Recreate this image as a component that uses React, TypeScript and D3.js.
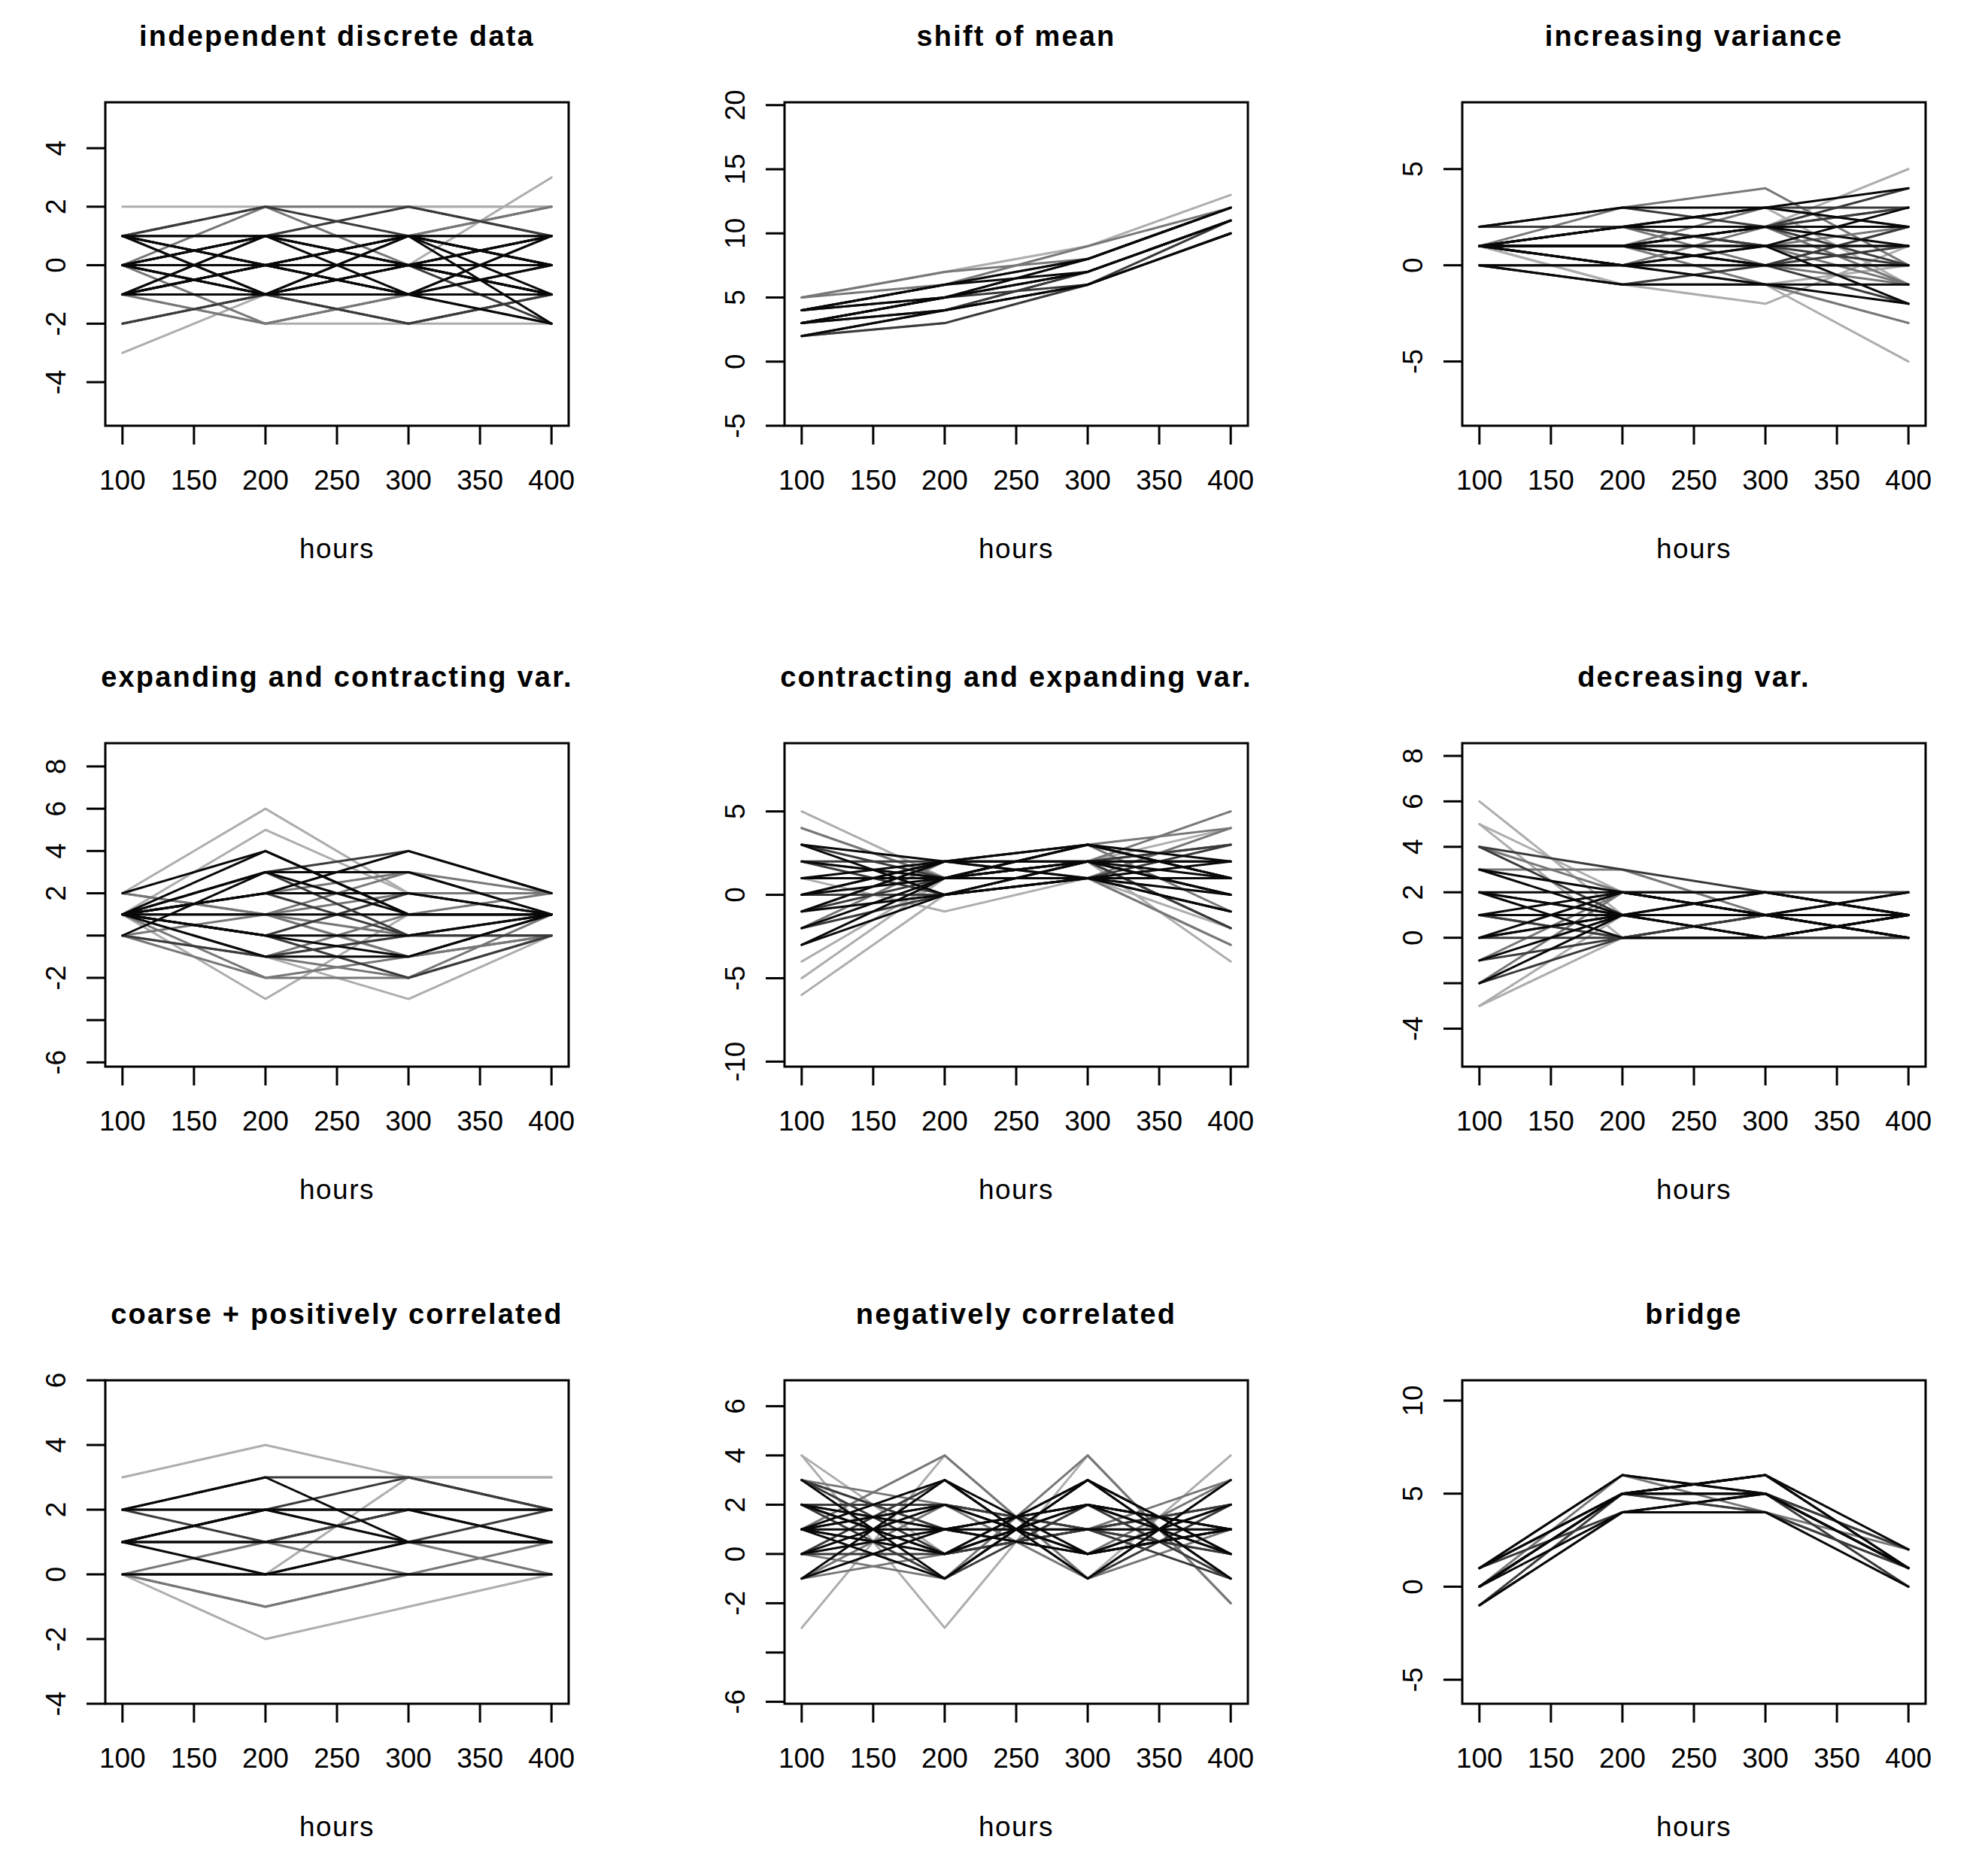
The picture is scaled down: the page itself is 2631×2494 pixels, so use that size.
import * as d3 from "d3";

// 9 panels of discrete trajectories, each observed at four times
const hours = [100, 200, 300, 400];
const xTicks = [100, 150, 200, 250, 300, 350, 400];

const titles = [
  "independent discrete data",
  "shift of mean",
  "increasing variance",
  "expanding and contracting var.",
  "contracting and expanding var.",
  "decreasing var.",
  "coarse + positively correlated",
  "negatively correlated",
  "bridge",
];

// values at 100/200/300/400 h, and how many units follow that path
const independentPaths = [
  [1, 1, 1, 1], [0, 0, 0, 0], [-1, -1, -1, -1], [1, 0, 1, 0], [0, 1, 0, 1],
  [-1, 0, -1, 0], [0, -1, 0, -1], [1, -1, 0, 1], [-1, 1, 0, -1], [0, 0, 1, -1],
  [1, 0, 0, -1], [-1, 0, 0, 1], [0, 1, 2, 1], [0, -1, -2, -1], [1, 2, 1, 0],
  [-1, -2, -1, 0], [-2, -1, 0, 0], [0, -1, 1, -2], [1, 1, 0, -2], [-1, 0, 1, 2],
  [2, 2, 2, 2], [-1, -2, -2, -2], [-3, -1, 0, 1], [-1, 0, 0, 3], [0, 1, 1, 2],
  [1, 2, 2, 1], [-2, -1, -2, -1], [0, 2, 0, 0], [-1, -1, 1, 0], [1, -1, -1, 1],
  [0, 0, -1, -2], [-1, 1, 1, 0], [0, 1, -1, 1], [1, 0, -1, -1], [0, -2, -1, 0],
  [-1, -1, -2, -1], [1, 1, 2, 2], [0, 0, 1, 1], [-1, 0, 0, -1], [-2, -1, -1, -2],
];
const independentCounts = [
  4, 4, 4, 4, 4, 4, 4, 4, 4, 4, 3, 3, 3, 3, 3, 2, 3, 4, 3, 2,
  1, 1, 1, 1, 2, 2, 2, 2, 4, 3, 4, 3, 4, 4, 2, 2, 1, 3, 4, 2,
];

const shiftPaths = [
  [2, 3, 6, 10], [5, 7, 9, 13], [5, 7, 8, 12], [4, 6, 8, 12], [3, 5, 7, 11],
  [2, 4, 6, 10], [4, 5, 7, 11], [3, 4, 6, 10], [2, 4, 7, 11], [3, 5, 8, 12],
  [4, 6, 7, 11], [4, 5, 8, 12], [3, 4, 7, 11], [5, 6, 8, 12], [2, 3, 6, 11],
  [4, 6, 9, 12], [3, 5, 6, 10],
];
const shiftCounts = [1, 1, 2, 4, 4, 4, 4, 4, 3, 4, 4, 3, 3, 2, 3, 2, 3];

const increasingPaths = [
  [2, 3, 3, 2], [1, 2, 2, 1], [1, 1, 1, 1], [1, 0, 0, 0], [0, -1, -1, -1],
  [1, -1, -1, 0], [1, 1, 2, 3], [1, 2, 1, 0], [1, 1, 0, 2], [1, 3, 4, 0],
  [1, 2, 3, 4], [1, 1, 2, 4], [0, 0, 1, 3], [1, 0, -1, -2], [1, 1, 0, -2],
  [1, 0, -1, -5], [1, -1, -2, 1], [1, 1, -1, -3], [1, 2, 2, 5], [1, 1, 2, -1],
  [0, 0, 0, 2], [1, 2, 0, -1], [1, 1, 1, -2], [2, 2, 3, 3], [1, 0, 1, 1],
  [1, 2, 1, 2], [0, -1, 0, 1], [1, 1, 0, 0], [1, 1, 3, 2], [1, 0, 2, 3],
  [2, 3, 2, 0], [1, 1, 2, 2], [0, -1, -1, -3], [1, 2, 3, -1], [2, 2, 1, -1],
];
const increasingCounts = [
  4, 4, 4, 4, 4, 1, 3, 3, 2, 2, 4, 3, 4, 4, 3, 1, 1, 2, 1, 2,
  3, 2, 4, 3, 3, 2, 3, 4, 2, 2, 3, 4, 1, 1, 2,
];

const expandPaths = [
  [2, 6, 2, 1], [1, 5, 2, 2], [1, 4, 1, 1], [1, 3, 1, 1], [1, 2, 4, 2],
  [0, 3, 3, 1], [1, 2, 2, 1], [1, 1, 1, 1], [1, 0, 0, 1], [1, -1, -1, 1],
  [0, -1, 0, 0], [1, -2, -1, 0], [1, -3, 1, 1], [1, -1, -3, 0], [1, 0, -2, 0],
  [0, -1, -2, 1], [1, 2, 3, 2], [1, 3, 0, 1], [2, 4, 1, 1], [1, 1, 3, 1],
  [1, -1, 1, 2], [1, 0, 2, 1], [1, 2, 0, 0], [0, 1, -1, 1], [2, 1, 0, 1],
  [1, 1, -1, 0], [1, 3, 4, 2], [1, 0, -1, 1], [2, 1, 2, 2], [0, -2, -2, 0],
];
const expandCounts = [
  1, 1, 4, 4, 4, 4, 4, 4, 4, 4, 3, 2, 1, 1, 3, 2, 2, 3, 4, 2,
  2, 3, 3, 2, 2, 2, 3, 4, 2, 2,
];

const contractPaths = [
  [5, 1, 2, 4], [2, 1, 2, 5], [-6, 0, 1, -3], [-5, 1, 2, -4], [-4, 1, 1, -2],
  [4, 1, 2, 3], [3, 2, 2, 2], [2, 1, 1, 1], [1, 1, 2, 0], [0, 2, 1, -1],
  [-1, 2, 3, 1], [-2, 1, 3, 2], [-3, 0, 2, 0], [3, 0, 1, -1], [2, 0, 2, 3],
  [1, 2, 2, 1], [0, 1, 1, 2], [-1, 1, 2, -2], [-2, 2, 1, 4], [-3, 1, 3, 1],
  [1, -1, 1, 0], [0, 0, 2, 2], [-1, 0, 1, 0], [2, 2, 3, 1], [3, 1, 2, -2],
  [-2, 0, 1, 3], [1, 1, 3, -1], [4, 1, 1, -3], [0, 2, 3, 4],
];
const contractCounts = [
  1, 2, 1, 1, 1, 2, 4, 4, 4, 4, 4, 4, 4, 4, 3, 4, 4, 3, 2, 4,
  1, 3, 4, 3, 3, 3, 2, 2, 2,
];

const decreasingPaths = [
  [6, 1, 1, 1], [5, 0, 0, 1], [5, 2, 2, 2], [4, 1, 1, 1], [4, 3, 2, 2],
  [3, 2, 2, 1], [3, 1, 1, 0], [2, 1, 1, 1], [2, 0, 0, 1], [1, 1, 1, 1],
  [1, 2, 1, 2], [1, 0, 1, 2], [0, 1, 2, 1], [0, 2, 1, 0], [0, 0, 0, 0],
  [-1, 1, 1, 1], [-1, 0, 1, 0], [-2, 1, 0, 1], [-2, 2, 2, 2], [-2, 0, 1, 1],
  [-3, 1, 1, 2], [-3, 0, 0, 0], [2, 2, 1, 0], [1, 1, 0, 1], [-1, 2, 2, 1],
  [3, 3, 1, 1], [0, 1, 0, 1], [2, 1, 2, 1], [1, 0, 0, 0], [4, 2, 1, 0],
];
const decreasingCounts = [
  1, 1, 1, 3, 3, 4, 4, 4, 4, 4, 4, 3, 4, 4, 3, 4, 3, 4, 2, 3,
  1, 1, 4, 3, 2, 2, 4, 3, 2, 2,
];

const coarsePaths = [
  [3, 4, 3, 3], [2, 3, 3, 2], [2, 3, 1, 1], [2, 2, 2, 2], [1, 1, 1, 1],
  [0, 0, 0, 0], [1, 2, 1, 1], [1, 0, 1, 1], [0, 1, 2, 2], [0, -1, 0, 1],
  [0, -2, -1, 0], [1, 0, 3, 3], [1, 2, 3, 2], [1, 1, 2, 1], [2, 2, 1, 0],
  [0, 0, 1, 2], [1, 1, 0, 0], [0, -1, 0, 0], [2, 1, 2, 2], [1, 2, 2, 1],
];
const coarseCounts = [1, 3, 4, 4, 4, 4, 4, 4, 2, 2, 1, 1, 3, 3, 2, 3, 2, 2, 3, 4];

const negativePaths = [
  [3, -1, 3, -1], [-1, 3, -1, 3], [2, 0, 2, 0], [0, 2, 0, 2], [1, 1, 1, 1],
  [3, 0, 1, 2], [2, 1, 0, 1], [0, 1, 2, 1], [1, 2, 0, 1], [1, 0, 2, 1],
  [3, 1, 0, 2], [-1, 1, 2, 0], [2, -1, 2, 1], [0, 3, -1, 2], [1, 3, 0, 1],
  [1, -1, 3, 0], [2, 2, 1, 0], [0, 0, 1, 2], [3, 2, -1, 1], [-1, 2, 1, 3],
  [2, 0, 3, -1], [0, 1, 0, 3], [1, 0, 1, -1], [2, 1, 2, -1], [4, 0, 1, 1],
  [3, 1, 1, 2], [-1, 0, 3, 0], [1, 2, 1, 0], [4, -3, 4, -2], [-3, 4, -1, 4],
  [1, 4, -1, 3], [0, -1, 4, -2],
];
const negativeCounts = [
  4, 4, 4, 4, 4, 3, 4, 4, 4, 4, 3, 4, 3, 3, 4, 4, 3, 3, 2, 2,
  4, 2, 3, 3, 1, 2, 2, 3, 1, 1, 2, 2,
];

const bridgePaths = [
  [1, 6, 5, 1], [0, 5, 6, 2], [-1, 4, 4, 0], [0, 5, 5, 1], [1, 5, 5, 1],
  [0, 4, 5, 1], [-1, 5, 4, 1], [1, 6, 5, 2], [0, 5, 6, 1], [1, 4, 5, 0],
  [0, 6, 4, 1], [-1, 4, 5, 1], [1, 5, 4, 2], [0, 5, 5, 2], [1, 5, 6, 1],
];
const bridgeCounts = [4, 4, 4, 4, 4, 4, 3, 3, 4, 3, 2, 2, 2, 3, 4];

const yLimits = [
  [-5.49, 5.57], [-5, 20.22], [-8.34, 8.47],
  [-6.2, 9.1], [-10.3, 9.09], [-5.67, 8.56],
  [-4, 6], [-6.08, 7.05], [-6.29, 11.09],
];
const yTicks = [
  [-4, -2, 0, 2, 4], [-5, 0, 5, 10, 15, 20], [-5, 0, 5],
  [-6, -4, -2, 0, 2, 4, 6, 8], [-10, -5, 0, 5], [-4, -2, 0, 2, 4, 6, 8],
  [-4, -2, 0, 2, 4, 6], [-6, -4, -2, 0, 2, 4, 6], [-5, 0, 5, 10],
];
// R drops labels that would overlap
const yTickLabels = [
  ["-4", "-2", "0", "2", "4"], ["-5", "0", "5", "10", "15", "20"], ["-5", "0", "5"],
  ["-6", "", "-2", "", "2", "4", "6", "8"], ["-10", "-5", "0", "5"], ["-4", "", "0", "2", "4", "6", "8"],
  ["-4", "-2", "0", "2", "4", "6"], ["-6", "", "-2", "0", "2", "4", "6"], ["-5", "0", "5", "10"],
];

const allPaths = [
  independentPaths, shiftPaths, increasingPaths,
  expandPaths, contractPaths, decreasingPaths,
  coarsePaths, negativePaths, bridgePaths,
];
const allCounts = [
  independentCounts, shiftCounts, increasingCounts,
  expandCounts, contractCounts, decreasingCounts,
  coarseCounts, negativeCounts, bridgeCounts,
];

const W = 2631;
const H = 2494;
const colLeft = [140, 1043, 1944];
const rowTop = [136, 988, 1835];
const boxW = 616;
const boxH = 430;
const font = "'Liberation Sans', Arial, Helvetica, sans-serif";

const grey = d3
  .scaleThreshold<number, string>()
  .domain([2, 3, 4])
  .range(["#adadad", "#777777", "#3a3a3a", "#080808"]);

function Panel({ i }: { i: number }) {
  const left = colLeft[i % 3];
  const top = rowTop[Math.floor(i / 3)];
  const bottom = top + boxH;
  const x = d3.scaleLinear().domain([88, 412]).range([left, left + boxW]);
  const y = d3.scaleLinear().domain(yLimits[i]).range([bottom, top]);
  const line = d3
    .line<number>()
    .x((_, k) => x(hours[k]))
    .y((v) => y(v));

  const order = d3.range(allPaths[i].length).sort((a, b) => allCounts[i][a] - allCounts[i][b]);
  const cx = left + boxW / 2;

  return (
    <g>
      <text x={cx} y={top - 75} textAnchor="middle" fontWeight="bold" fontSize={38} letterSpacing={2.2}>
        {titles[i]}
      </text>
      <clipPath id={`clip${i}`}>
        <rect x={left} y={top} width={boxW} height={boxH} />
      </clipPath>
      <g clipPath={`url(#clip${i})`}>
        {order.map((k) => (
          <path
            key={k}
            d={line(allPaths[i][k]) ?? ""}
            fill="none"
            stroke={grey(allCounts[i][k])}
            strokeWidth={3}
            strokeLinejoin="round"
            strokeLinecap="round"
          />
        ))}
      </g>
      <rect x={left} y={top} width={boxW} height={boxH} fill="none" stroke="#000" strokeWidth={3} />
      {xTicks.map((t) => (
        <g key={t}>
          <line x1={x(t)} x2={x(t)} y1={bottom} y2={bottom + 25} stroke="#000" strokeWidth={3} />
          <text x={x(t)} y={bottom + 85} textAnchor="middle" fontSize={37}>
            {t}
          </text>
        </g>
      ))}
      {yTicks[i].map((t, k) => (
        <g key={t}>
          <line x1={left - 25} x2={left} y1={y(t)} y2={y(t)} stroke="#000" strokeWidth={3} />
          <text transform={`translate(${left - 53},${y(t)}) rotate(-90)`} textAnchor="middle" fontSize={37}>
            {yTickLabels[i][k]}
          </text>
        </g>
      ))}
      <text x={cx} y={bottom + 176} textAnchor="middle" fontSize={37} letterSpacing={1.5}>
        hours
      </text>
    </g>
  );
}

export default function App() {
  return (
    <svg
      width={W}
      height={H}
      viewBox={`0 0 ${W} ${H}`}
      style={{ position: "absolute", left: 0, top: 0, background: "#fff" }}
      fontFamily={font}
    >
      <rect width={W} height={H} fill="#fff" />
      {d3.range(9).map((i) => (
        <Panel key={i} i={i} />
      ))}
    </svg>
  );
}
